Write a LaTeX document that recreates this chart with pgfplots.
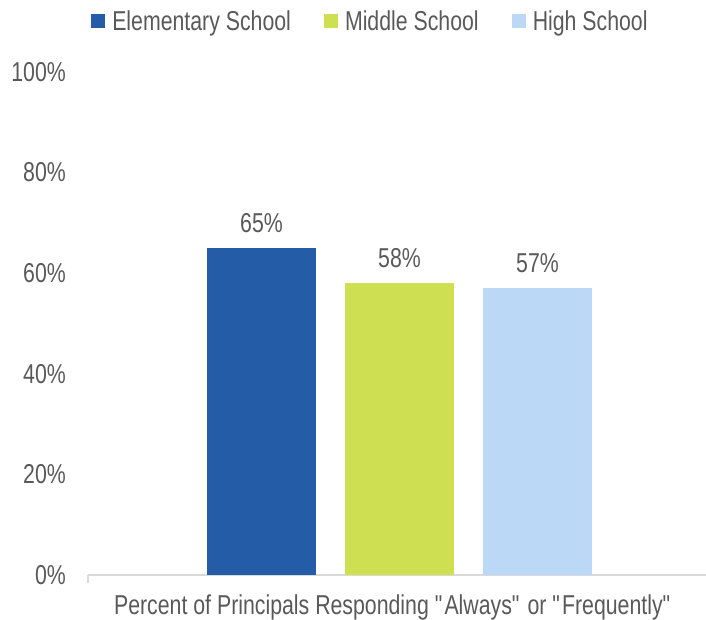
\documentclass[border=0pt]{standalone}
\usepackage{fontspec}
\setmainfont[FakeStretch=0.78]{Liberation Sans}
\usepackage{pgfplots}
\pgfplotsset{compat=1.18}
\definecolor{elem}{HTML}{245CA7}
\definecolor{mid}{HTML}{CFDF52}
\definecolor{high}{HTML}{BBD9F6}
\definecolor{txt}{HTML}{595959}
\definecolor{axl}{HTML}{D9D9D9}
\begin{document}
\begin{tikzpicture}[font=\fontsize{27.3bp}{32bp}\selectfont, text=txt]
\path[use as bounding box] (0,0) rectangle (706bp,620bp);
\begin{axis}[
  at={(88bp,45bp)}, anchor=south west,
  scale only axis, width=618bp, height=503bp,
  xmin=-1.257, xmax=3.221, ymin=0, ymax=100,
  ybar, bar width=0.79,
  axis lines*=left,
  y axis line style={draw=none},
  x axis line style={axl, line width=1.2bp},
  xtick={-1.257}, xticklabels={},
  x tick style={axl, line width=1.2bp},
  tick align=outside, major tick length=8bp,
  ytick={0,20,40,60,80,100},
  yticklabels={0\%,20\%,40\%,60\%,80\%,100\%},
  y tick style={draw=none},
  y tick label style={anchor=east, inner sep=0pt, xshift=-14bp, text=txt},
  /pgf/number format/assume math mode=true,
  xlabel={Percent of Principals Responding \textquotedbl{}Always\textquotedbl{} or \textquotedbl{}Frequently\textquotedbl{}},
  xlabel style={at={(rel axis cs:0.494,0)}, anchor=north, inner sep=0pt, yshift=-20bp, text=txt},
  nodes near coords={\pgfmathprintnumber{\pgfplotspointmeta}\%},
  every node near coord/.append style={anchor=south, inner sep=0pt, yshift=15bp, text=txt},
  legend image code/.code={\fill[#1] (0bp,-7bp) rectangle (14bp,7bp);},
  legend columns=-1,
  legend style={draw=none, fill=none, at={(0.005,1.101)}, anchor=west, inner sep=0pt,
    nodes={inner sep=0pt, text=txt},
    /tikz/every odd column/.append style={column sep=7bp},
    /tikz/every even column/.append style={column sep=33bp}},
]
\addplot[fill=elem, draw=none, bar shift=0pt] coordinates {(0,65)};
\addplot[fill=mid, draw=none, bar shift=0pt] coordinates {(1,58)};
\addplot[fill=high, draw=none, bar shift=0pt] coordinates {(2,57)};
\legend{Elementary School, Middle School, High School}
\end{axis}
\end{tikzpicture}
\end{document}
